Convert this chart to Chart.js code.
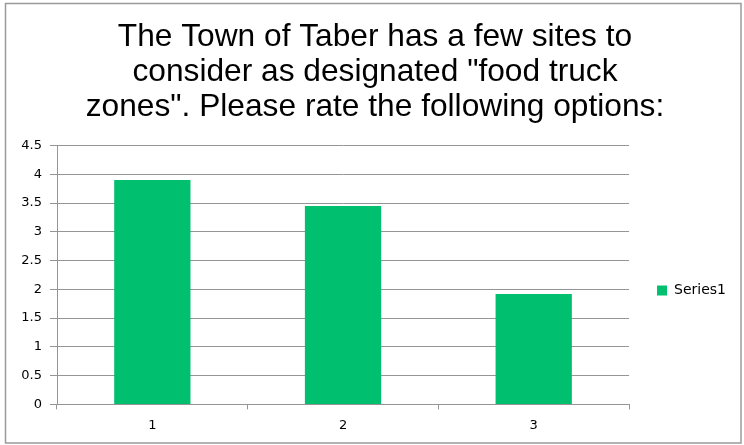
<!DOCTYPE html>
<html>
<head>
<meta charset="utf-8">
<script src="https://cdn.jsdelivr.net/npm/chart.js@4"></script>
<style>
html,body{margin:0;padding:0;background:#fff;}
canvas{display:block;}
</style>
</head>
<body>
<canvas id="c" width="744" height="445"></canvas>
<script>
const categories = ["1", "2", "3"];
const series1 = [3.9, 3.45, 1.92];
const yTicks = [0, 0.5, 1, 1.5, 2, 2.5, 3, 3.5, 4, 4.5];
const titleLines = ["The Town of Taber has a few sites to", "consider as designated \"food truck", "zones\". Please rate the following options:"];

const axisFont = {family: "DejaVu Sans", size: 13};
const gridColor = '#959595';

const framePlugin = {
  id: 'frame',
  afterLayout(chart) {
    const lg = chart.legend;
    if (lg) { lg.top += 31; }
    const tb = chart.titleBlock;
    if (tb) { tb.left = 6; tb.right = 744; }
  },
  beforeDraw(chart) {
    const ctx = chart.ctx;
    ctx.save();
    ctx.fillStyle = '#fff';
    ctx.fillRect(0, 0, chart.width, chart.height);
    ctx.strokeStyle = '#9a9a9a';
    ctx.lineWidth = 1.5;
    ctx.strokeRect(5.5, 3.5, 735.5, 439.5);
    ctx.restore();
  }
};

new Chart(document.getElementById('c'), {
  type: 'bar',
  data: {
    labels: categories,
    datasets: [{
      label: 'Series1',
      data: series1,
      backgroundColor: '#00bf6f',
      borderWidth: 0,
      categoryPercentage: 1,
      barPercentage: 0.4
    }]
  },
  plugins: [framePlugin],
  options: {
    responsive: false,
    animation: false,
    devicePixelRatio: 1,
    layout: {padding: {left: 10, right: 8, top: 0, bottom: 4}},
    plugins: {
      title: {
        display: true,
        text: titleLines,
        color: '#000',
        font: {family: "Liberation Sans", size: 31.7, weight: 'normal', lineHeight: 1.11},
        padding: {top: 19.5, bottom: 20.5}
      },
      legend: {
        position: 'right',
        fullSize: false,
        labels: {
          boxWidth: 10, boxHeight: 10, color: '#000',
          font: {family: "DejaVu Sans", size: 14},
          padding: 28
        }
      },
      tooltip: {enabled: false}
    },
    scales: {
      x: {
        grid: {display: true, drawOnChartArea: false, drawTicks: true, tickLength: 5, color: gridColor, offset: true},
        border: {display: true, color: gridColor},
        ticks: {color: '#000', font: axisFont, padding: 8}
      },
      y: {
        min: 0, max: 4.5,
        afterBuildTicks: (s) => { s.ticks = yTicks.map(v => ({value: v})); },
        afterFit: (s) => { s.width = 47; },
        grid: {color: gridColor, tickLength: 7},
        border: {display: true, color: gridColor},
        ticks: {color: '#000', font: axisFont, padding: 8, callback: (v) => String(v)}
      }
    }
  }
});
</script>
</body>
</html>
